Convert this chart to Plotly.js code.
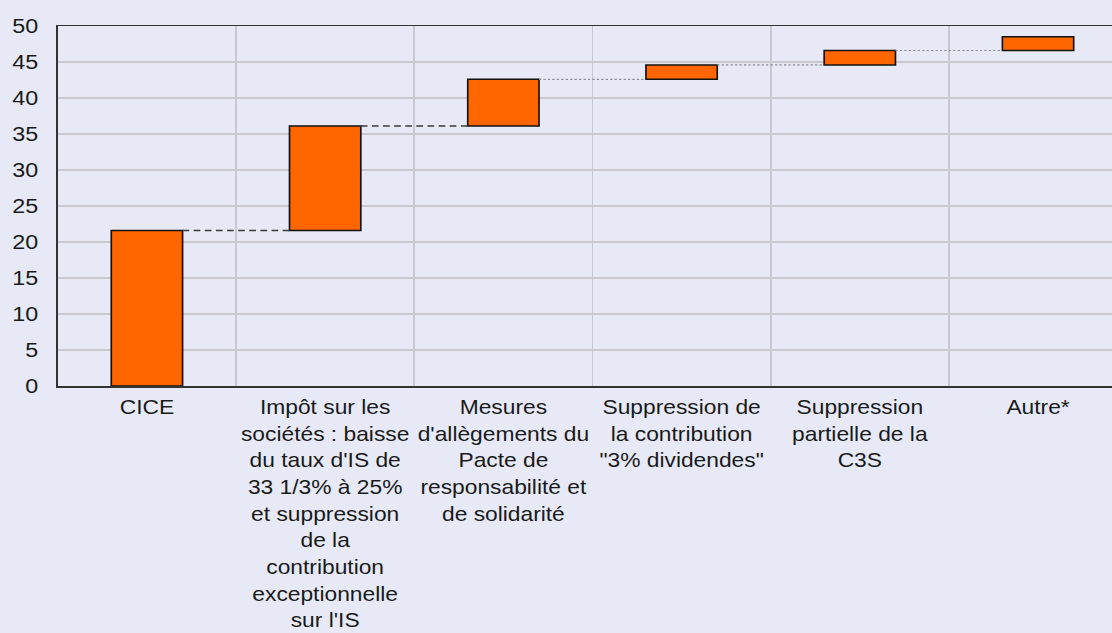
<!DOCTYPE html>
<html>
<head>
<meta charset="utf-8">
<script src="https://cdn.plot.ly/plotly-3.0.1.min.js"></script>
<style>
html,body{margin:0;padding:0;background:#E7EAF6;overflow:hidden;}
#chart{width:1000px;height:633px;transform:scaleX(1.112);transform-origin:0 0;}
</style>
</head>
<body>
<div id="chart"></div>
<script>
const categories = [
  "CICE",
  "Impôt sur les<br>sociétés : baisse<br>du taux d'IS de<br>33 1/3% à 25%<br>et suppression<br>de la<br>contribution<br>exceptionnelle<br>sur l'IS",
  "Mesures<br>d'allègements du<br>Pacte de<br>responsabilité et<br>de solidarité",
  "Suppression de<br>la contribution<br>\"3% dividendes\"",
  "Suppression<br>partielle de la<br>C3S",
  "Autre*"
];
const increments = [21.6, 14.5, 6.5, 2.0, 2.0, 1.9];
const yTicks = [0, 5, 10, 15, 20, 25, 30, 35, 40, 45, 50];

const xs = categories.map((_, i) => i);
const cum = [];
let s = 0;
increments.forEach(v => { s += v; cum.push(+s.toFixed(2)); });

const barHalf = 0.2;
function connectorTrace(indices, dash, color, width) {
  const cx = [], cy = [];
  indices.forEach(i => {
    cx.push(i + barHalf, i + 1 - barHalf, null);
    cy.push(cum[i], cum[i], null);
  });
  return {type: 'scatter', mode: 'lines', x: cx, y: cy, hoverinfo: 'skip',
    line: {color: color, width: width, dash: dash}, showlegend: false};
}

const traces = [
  {
    type: 'waterfall',
    x: xs,
    y: increments,
    measure: increments.map(() => 'relative'),
    width: 0.4,
    increasing: {marker: {color: '#FF6600', line: {color: '#111111', width: 1.5}}},
    connector: {visible: false},
    showlegend: false,
    hoverinfo: 'skip'
  },
  connectorTrace([0, 1], '6px,4px', '#3a3a3a', 1.5),
  connectorTrace([2, 3, 4], '2px,2px', '#8a8a92', 1.2)
];

const layout = {
  width: 1000, height: 633,
  paper_bgcolor: '#E7EAF6', plot_bgcolor: '#E7EAF6',
  margin: {l: 52, r: 0, t: 26, b: 247},
  font: {family: 'Liberation Sans, Arial, sans-serif', size: 21, color: '#1a1a1a'},
  showlegend: false,
  xaxis: {
    range: [-0.5, 5.415],
    tickmode: 'array', tickvals: xs, ticktext: categories,
    tickfont: {size: 20.5},
    showgrid: false, zeroline: false,
    showline: true, linecolor: '#333333', linewidth: 1.5, mirror: true,
    ticks: '', ticklabelstandoff: 2,
    minor: {tick0: 0.5, dtick: 1, showgrid: true, gridcolor: '#C8C8CE', gridwidth: 1.5, ticks: ''}
  },
  yaxis: {
    range: [0, 50], tickmode: 'array', tickvals: yTicks,
    showgrid: true, gridcolor: '#C8C8CE', gridwidth: 1.5,
    zeroline: false, showline: true, linecolor: '#333333', linewidth: 1.5,
    ticks: '', ticklabelstandoff: 12
  }
};

Plotly.newPlot('chart', traces, layout, {displayModeBar: false, staticPlot: true});
</script>
</body>
</html>
